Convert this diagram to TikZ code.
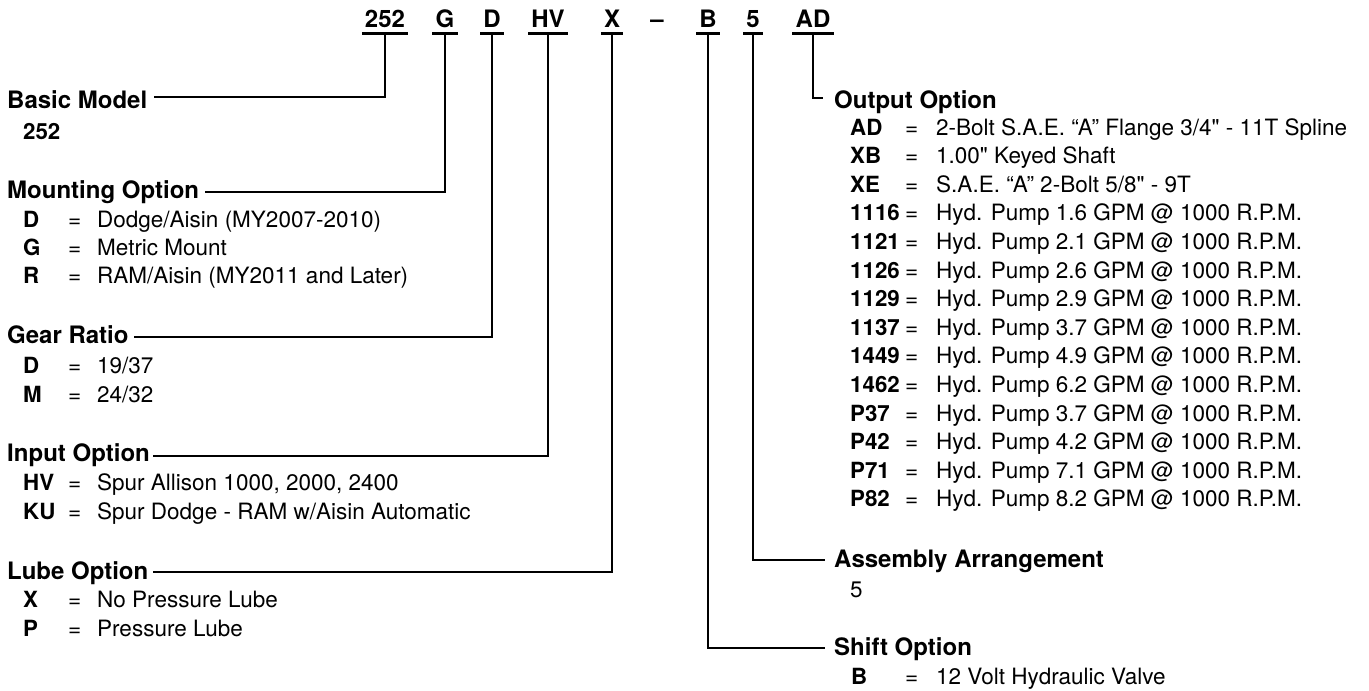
\documentclass[tikz,border=0pt]{standalone}
\usepackage{fontspec}
\setmainfont{TeX Gyre Heros}[Ligatures=TeXOff]
\begin{document}
\begin{tikzpicture}[x=1pt,y=-1pt,
  conn/.style={line width=2.8pt},
  code/.style={font=\fontsize{24}{24}\selectfont\bfseries, anchor=base, inner xsep=3pt, inner ysep=0pt, text depth=6pt},
  head/.style={font=\fontsize{24}{24}\selectfont\bfseries, anchor=base west, inner sep=0pt},
  key/.style={font=\fontsize{22.3}{22.3}\selectfont\bfseries, anchor=base west, inner sep=0pt},
  eqs/.style={font=\fontsize{22.5}{22.5}\selectfont, anchor=base west, inner sep=0pt},
  desc/.style={font=\fontsize{22.5}{22.5}\selectfont, anchor=base west, inner sep=0pt}]
\useasboundingbox (0,0) rectangle (1369,691);

% ---- top code row ----
\node[code] (c252) at (385,27) {252};
\node[code] (cG)   at (445,27) {G};
\node[code] (cD)   at (492,27) {D};
\node[code] (cHV)  at (548,27) {HV};
\node[code] (cX)   at (612,27) {X};
\node[font=\fontsize{24}{24}\selectfont\bfseries, anchor=base, inner sep=0pt] (cdash) at (657,27) {–};
\node[code] (cB)   at (708,27) {B};
\node[code] (c5)   at (753,27) {5};
\node[code] (cAD)  at (813,27) {AD};
\foreach \n in {c252,cG,cD,cHV,cX,cB,c5,cAD}
  \draw[conn] (\n.south west) -- (\n.south east);

% ---- left column ----
\node[head] (hBasic) at (7,108) {Basic Model};
\node[key] (k252) at (23,139) {252};

\node[head] (hMount) at (7,198) {Mounting Option};
\node[key] (kMD) at (23,227) {D};  \node[eqs] (qMD) at (68,227) {=}; \node[desc] (dMD) at (97,227) {Dodge/Aisin (MY2007-2010)};
\node[key] (kMG) at (23,255) {G};  \node[eqs] (qMG) at (68,255) {=}; \node[desc] (dMG) at (97,255) {Metric Mount};
\node[key] (kMR) at (23,283) {R};  \node[eqs] (qMR) at (68,283) {=}; \node[desc] (dMR) at (97,283) {RAM/Aisin (MY2011 and Later)};

\node[head] (hGear) at (7,343) {Gear Ratio};
\node[key] (kGD) at (23,373) {D};  \node[eqs] (qGD) at (68,373) {=}; \node[desc] (dGD) at (97,373) {19/37};
\node[key] (kGM) at (23,402) {M};  \node[eqs] (qGM) at (68,402) {=}; \node[desc] (dGM) at (97,402) {24/32};

\node[head] (hInput) at (7,461) {Input Option};
\node[key] (kHV) at (23,490) {HV}; \node[eqs] (qHV) at (68,490) {=}; \node[desc] (dHV) at (97,490) {Spur Allison 1000, 2000, 2400};
\node[key] (kKU) at (23,519) {KU}; \node[eqs] (qKU) at (68,519) {=}; \node[desc] (dKU) at (97,519) {Spur Dodge - RAM w/Aisin Automatic};

\node[head] (hLube) at (7,579) {Lube Option};
\node[key] (kLX) at (23,607) {X};  \node[eqs] (qLX) at (68,607) {=}; \node[desc] (dLX) at (97,607) {No Pressure Lube};
\node[key] (kLP) at (23,636) {P};  \node[eqs] (qLP) at (68,636) {=}; \node[desc] (dLP) at (97,636) {Pressure Lube};

% ---- right column ----
\node[head] (hOut) at (834,108) {Output Option};
\foreach \k/\t [count=\i from 0] in {
  AD/{2-Bolt S.A.E. “A” Flange 3/4" - 11T Spline},
  XB/{1.00" Keyed Shaft},
  XE/{S.A.E. “A” 2-Bolt 5/8" - 9T},
  1116/{Hyd. Pump 1.6 GPM @ 1000 R.P.M.},
  1121/{Hyd. Pump 2.1 GPM @ 1000 R.P.M.},
  1126/{Hyd. Pump 2.6 GPM @ 1000 R.P.M.},
  1129/{Hyd. Pump 2.9 GPM @ 1000 R.P.M.},
  1137/{Hyd. Pump 3.7 GPM @ 1000 R.P.M.},
  1449/{Hyd. Pump 4.9 GPM @ 1000 R.P.M.},
  1462/{Hyd. Pump 6.2 GPM @ 1000 R.P.M.},
  P37/{Hyd. Pump 3.7 GPM @ 1000 R.P.M.},
  P42/{Hyd. Pump 4.2 GPM @ 1000 R.P.M.},
  P71/{Hyd. Pump 7.1 GPM @ 1000 R.P.M.},
  P82/{Hyd. Pump 8.2 GPM @ 1000 R.P.M.}}{
  \node[key] (ok\i) at (850,135+28.6*\i) {\k};
  \node[eqs] (oq\i) at (905,135+28.6*\i) {=};
  \node[desc] (od\i) at (936,135+28.6*\i) {\t};
}

\node[head] (hAsm) at (834,567) {Assembly Arrangement};
\node[desc] (d5) at (850,597) {5};

\node[head] (hShift) at (834,655) {Shift Option};
\node[key] (kSB) at (851,684) {B}; \node[eqs] (qSB) at (905,684) {=}; \node[desc] (dSB) at (936,684) {12 Volt Hydraulic Valve};

% ---- connector end points ----
\coordinate (eBasic) at (154,97);
\coordinate (eMount) at (205,192);
\coordinate (eGear)  at (134,337);
\coordinate (eInput) at (153,456);
\coordinate (eLube)  at (153,572);
\coordinate (eOut)   at (823,98);
\coordinate (eAsm)   at (825,560);
\coordinate (eShift) at (825,648);

\draw[conn] (c252.south) |- (eBasic);
\draw[conn] (cG.south)   |- (eMount);
\draw[conn] (cD.south)   |- (eGear);
\draw[conn] (cHV.south)  |- (eInput);
\draw[conn] (cX.south)   |- (eLube);
\draw[conn] (cAD.south)  |- (eOut);
\draw[conn] (c5.south)   |- (eAsm);
\draw[conn] (cB.south)   |- (eShift);
\end{tikzpicture}
\end{document}
